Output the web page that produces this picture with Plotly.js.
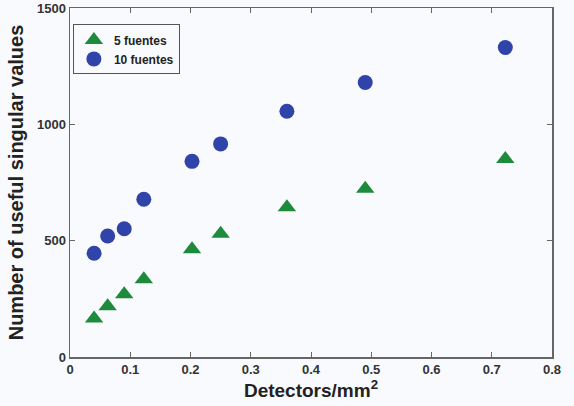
<!DOCTYPE html>
<html>
<head>
<meta charset="utf-8">
<script src="https://cdn.plot.ly/plotly-3.0.1.min.js"></script>
<style>html,body{margin:0;padding:0;background:#f8fafd;}#chart{width:574px;height:406px;}</style>
</head>
<body>
<div id="chart"></div>
<script>
const detectors = [0.04, 0.0625, 0.09, 0.1225, 0.2025, 0.25, 0.36, 0.49, 0.7225];
const fuentes5 = [166, 218, 270, 334, 463, 530, 644, 723, 851];
const fuentes10 = [446, 520, 551, 678, 841, 916, 1056, 1180, 1330];
const seriesNames = ["5 fuentes", "10 fuentes"];
const xTicks = [0, 0.1, 0.2, 0.3, 0.4, 0.5, 0.6, 0.7, 0.8];
const xTickText = ["0", "0.1", "0.2", "0.3", "0.4", "0.5", "0.6", "0.7", "0.8"];
const yTicks = [0, 500, 1000, 1500];

const font = "Liberation Sans, Arial, sans-serif";
const traces = [
  {x: detectors, y: fuentes5, name: seriesNames[0], type: "scatter", mode: "markers",
   marker: {symbol: "triangle-up", size: 16, color: "#1e8a3c"}},
  {x: detectors, y: fuentes10, name: seriesNames[1], type: "scatter", mode: "markers",
   marker: {symbol: "circle", size: 15, color: "#2f43a8"}}
];
const axisCommon = {
  showgrid: false, zeroline: false, showline: true, linecolor: "#666", linewidth: 1.5,
  mirror: "ticks", ticks: "inside", ticklen: 5, tickcolor: "#666",
  tickfont: {family: font, size: 13, color: "#333", weight: "bold"}
};
const layout = {
  width: 574, height: 406,
  margin: {l: 70, r: 22, t: 8, b: 49},
  paper_bgcolor: "#f8fafd", plot_bgcolor: "#f8fafd",
  showlegend: true,
  legend: {x: 0.006, y: 0.953, xanchor: "left", yanchor: "top",
    bordercolor: "#555", borderwidth: 1, bgcolor: "#f8fafd",
    font: {family: font, size: 12, color: "#222", weight: "bold"},
    tracegroupgap: 0, itemwidth: 30},
  xaxis: Object.assign({}, axisCommon, {range: [0, 0.8], tickvals: xTicks, ticktext: xTickText,
    title: {text: "Detectors/mm<sup>2</sup>", standoff: 6,
      font: {family: font, size: 19, color: "#222", weight: "bold"}}}),
  yaxis: Object.assign({}, axisCommon, {range: [0, 1500], tickvals: yTicks,
    title: {text: "Number of useful singular values", standoff: 8,
      font: {family: font, size: 20, color: "#222", weight: "bold"}}})
};
Plotly.newPlot("chart", traces, layout, {displayModeBar: false, staticPlot: true});
</script>
</body>
</html>
